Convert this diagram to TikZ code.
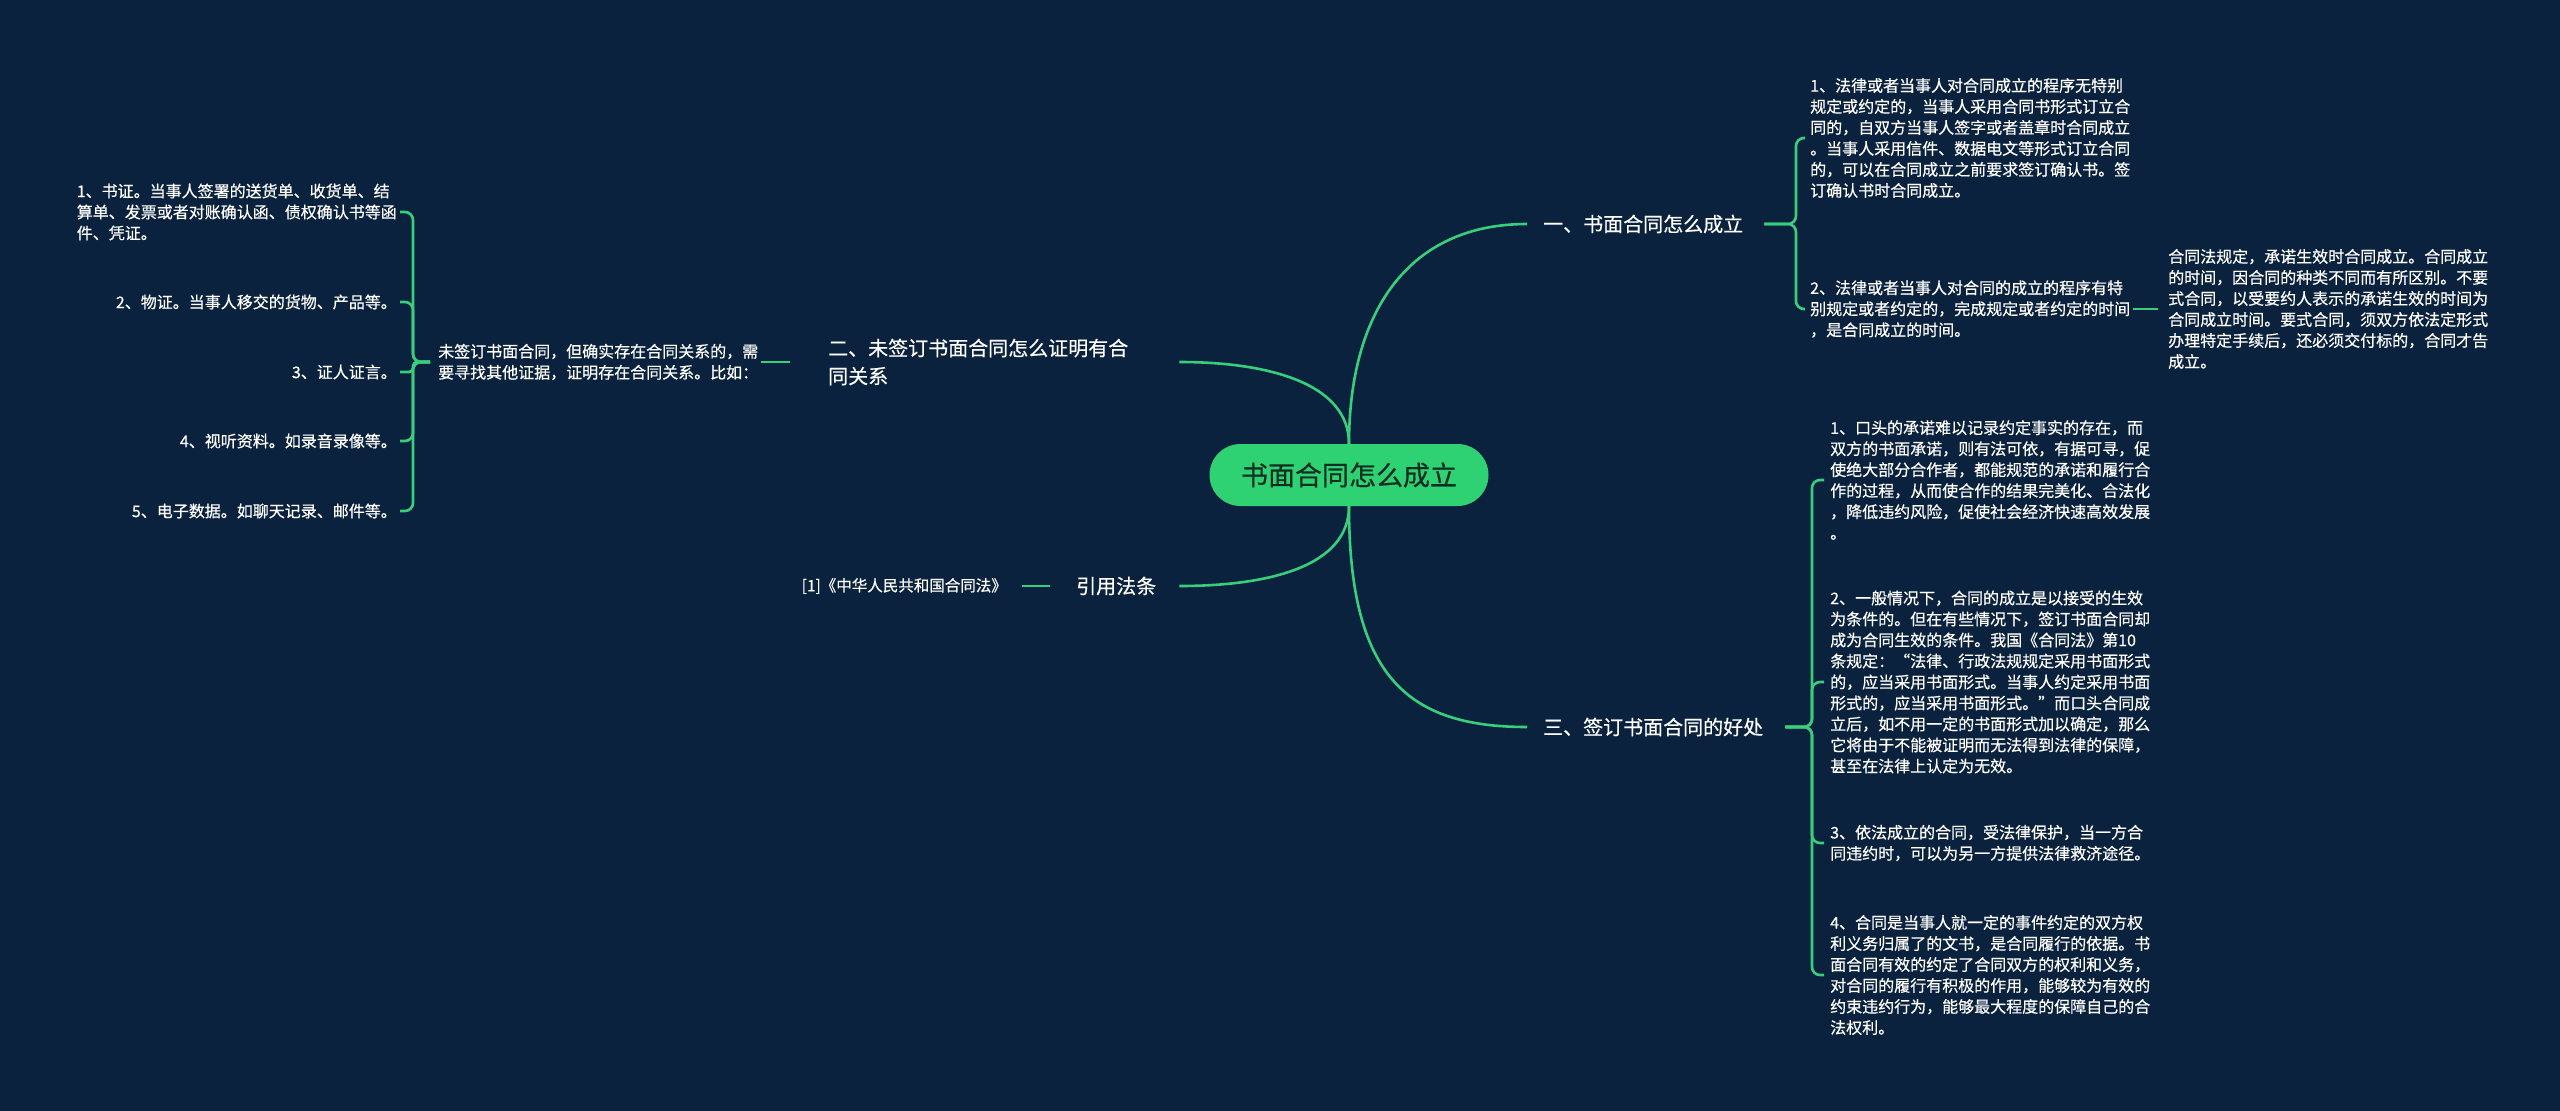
\documentclass[tikz,border=0pt]{standalone}
\usepackage{fontspec}
\setmainfont[FakeBold=0.5]{Noto Sans CJK SC}
\definecolor{bg}{RGB}{11,34,62}
\definecolor{ln}{RGB}{56,206,124}
\definecolor{rootfill}{RGB}{46,210,115}
\definecolor{roottext}{RGB}{18,46,34}
\begin{document}
\begin{tikzpicture}[x=1pt,y=-1pt,
 line/.style={draw=ln,line width=2.6pt},
 br/.style={line,rounded corners=8pt},
 rootnode/.style={fill=rootfill,rounded corners=31pt,minimum width=279pt,minimum height=62pt,inner sep=0pt,text=roottext,font=\fontsize{27}{30}\selectfont},
 mainnode/.style={inner sep=0pt,text=white,align=left,font=\fontsize{20}{28}\selectfont},
 leaf/.style={inner sep=0pt,text=white,align=left,font=\fontsize{16}{21}\selectfont}
]
\fill[bg] (0,0) rectangle (2560,1111);
\useasboundingbox (0,0) rectangle (2560,1111);

% root
\node[rootnode] (root) at (1349,475) {书面合同怎么成立};

% main branches
\node[mainnode,anchor=west] (b1) at (1543,224) {一、书面合同怎么成立};
\node[mainnode,anchor=west] (b2) at (828,362) {二、未签订书面合同怎么证明有合\\同关系};
\node[mainnode,anchor=west] (b3) at (1076,586) {引用法条};
\node[mainnode,anchor=west] (b4) at (1543,727) {三、签订书面合同的好处};

% branch 1 children
\node[leaf,anchor=west] (c11) at (1810,138) {1、法律或者当事人对合同成立的程序无特别\\规定或约定的，当事人采用合同书形式订立合\\同的，自双方当事人签字或者盖章时合同成立\\。当事人采用信件、数据电文等形式订立合同\\的，可以在合同成立之前要求签订确认书。签\\订确认书时合同成立。};
\node[leaf,anchor=west] (c12) at (1810,309) {2、法律或者当事人对合同的成立的程序有特\\别规定或者约定的，完成规定或者约定的时间\\，是合同成立的时间。};
\node[leaf,anchor=west] (g) at (2168,309) {合同法规定，承诺生效时合同成立。合同成立\\的时间，因合同的种类不同而有所区别。不要\\式合同，以受要约人表示的承诺生效的时间为\\合同成立时间。要式合同，须双方依法定形式\\办理特定手续后，还必须交付标的，合同才告\\成立。};

% branch 4 children
\node[leaf,anchor=west] (d1) at (1830,480) {1、口头的承诺难以记录约定事实的存在，而\\双方的书面承诺，则有法可依，有据可寻，促\\使绝大部分合作者，都能规范的承诺和履行合\\作的过程，从而使合作的结果完美化、合法化\\，降低违约风险，促使社会经济快速高效发展\\。};
\node[leaf,anchor=west] (d2) at (1830,682) {2、一般情况下，合同的成立是以接受的生效\\为条件的。但在有些情况下，签订书面合同却\\成为合同生效的条件。我国《合同法》第10\\条规定：“法律、行政法规规定采用书面形式\\的，应当采用书面形式。当事人约定采用书面\\形式的，应当采用书面形式。”而口头合同成\\立后，如不用一定的书面形式加以确定，那么\\它将由于不能被证明而无法得到法律的保障，\\甚至在法律上认定为无效。};
\node[leaf,anchor=west] (d3) at (1830,843) {3、依法成立的合同，受法律保护，当一方合\\同违约时，可以为另一方提供法律救济途径。};
\node[leaf,anchor=west] (d4) at (1830,975) {4、合同是当事人就一定的事件约定的双方权\\利义务归属了的文书，是合同履行的依据。书\\面合同有效的约定了合同双方的权利和义务，\\对合同的履行有积极的作用，能够较为有效的\\约束违约行为，能够最大程度的保障自己的合\\法权利。};

% branch 2 children
\node[leaf,anchor=west] (c) at (438,362) {未签订书面合同，但确实存在合同关系的，需\\要寻找其他证据，证明存在合同关系。比如：};
\node[leaf,anchor=east] (l1) at (397,212) {1、书证。当事人签署的送货单、收货单、结\\算单、发票或者对账确认函、债权确认书等函\\件、凭证。};
\node[leaf,anchor=east] (l2) at (397,302) {2、物证。当事人移交的货物、产品等。};
\node[leaf,anchor=east] (l3) at (397,372) {3、证人证言。};
\node[leaf,anchor=east] (l4) at (397,441) {4、视听资料。如录音录像等。};
\node[leaf,anchor=east] (l5) at (397,511) {5、电子数据。如聊天记录、邮件等。};

% branch 3 child
\node[leaf,anchor=east,font=\fontsize{15.5}{20}\selectfont] (r) at (1007,586) {[1]《中华人民共和国合同法》};

% curves from root
\draw[line] (root.north) .. controls +(0,-130) and +(-120,0) .. ([xshift=-16pt]b1.west);
\draw[line] (root.north) .. controls +(0,-60) and +(90,0) .. ([xshift=51pt]b2.east);
\draw[line] (root.south) .. controls +(0,60) and +(90,0) .. ([xshift=23pt]b3.east);
\draw[line] (root.south) .. controls +(0,170) and +(-120,0) .. ([xshift=-16pt]b4.west);

% brackets right
\draw[br] ([xshift=21pt]b1.east) -| ([xshift=-14pt]c11.west) -- ([xshift=-5pt]c11.west);
\draw[br] ([xshift=21pt]b1.east) -| ([xshift=-14pt]c12.west) -- ([xshift=-5pt]c12.west);
\draw[line] ([xshift=3pt]c12.east) -- ([xshift=-10pt]g.west);

\draw[br] ([xshift=22pt]b4.east) -| ([xshift=-18pt]d1.west) -- ([xshift=-6pt]d1.west);
\draw[br] ([xshift=22pt]b4.east) -| ([xshift=-18pt]d2.west) -- ([xshift=-6pt]d2.west);
\draw[br] ([xshift=22pt]b4.east) -| ([xshift=-18pt]d3.west) -- ([xshift=-6pt]d3.west);
\draw[br] ([xshift=22pt]b4.east) -| ([xshift=-18pt]d4.west) -- ([xshift=-6pt]d4.west);

% left side
\draw[line] ([xshift=-38pt]b2.west) -- ([xshift=3pt]c.east);
\draw[br] ([xshift=-8pt]c.west) -| ([xshift=16pt]l1.east) -- ([xshift=3pt]l1.east);
\draw[br] ([xshift=-8pt]c.west) -| ([xshift=16pt]l2.east) -- ([xshift=3pt]l2.east);
\draw[line,rounded corners=4pt] ([xshift=-8pt]c.west) -| ([xshift=16pt]l3.east) -- ([xshift=3pt]l3.east);
\draw[br] ([xshift=-8pt]c.west) -| ([xshift=16pt]l4.east) -- ([xshift=3pt]l4.east);
\draw[br] ([xshift=-8pt]c.west) -| ([xshift=16pt]l5.east) -- ([xshift=3pt]l5.east);

\draw[line] ([xshift=-26pt]b3.west) -- ([xshift=15pt]r.east);
\end{tikzpicture}
\end{document}
